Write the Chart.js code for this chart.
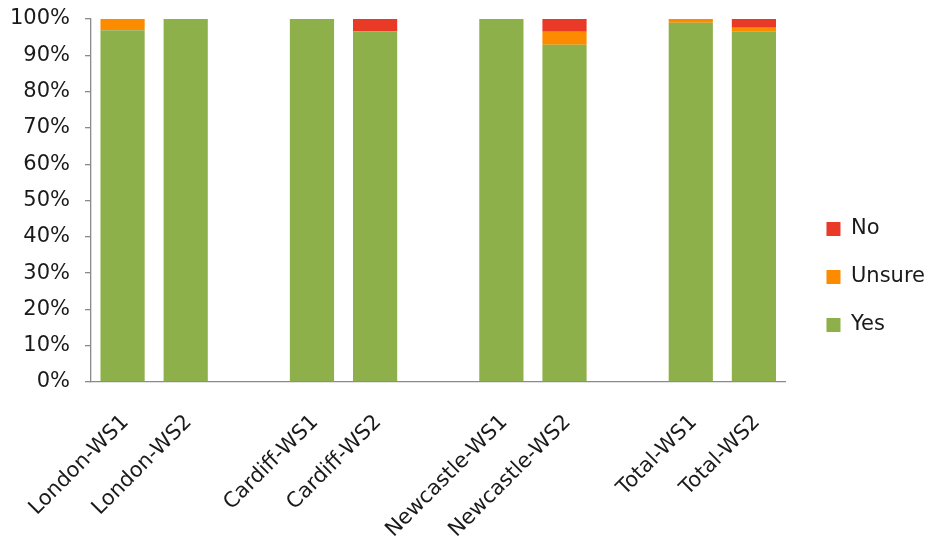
<!DOCTYPE html>
<html>
<head>
<meta charset="utf-8">
<script src="https://cdn.jsdelivr.net/npm/chart.js@4/dist/chart.umd.min.js"></script>
<style>
  html, body { margin: 0; padding: 0; background: #ffffff; }
  #wrap { width: 928px; height: 543px; position: relative; overflow: hidden; }
</style>
</head>
<body>
<div id="wrap"><canvas id="chart" width="928" height="543"></canvas></div>
<script>
// Workshop groups; empty strings leave gaps between the city pairs
const categories = ['London-WS1', 'London-WS2', '', 'Cardiff-WS1', 'Cardiff-WS2', '',
                    'Newcastle-WS1', 'Newcastle-WS2', '', 'Total-WS1', 'Total-WS2'];

// Share of answers (%) per group
const yesValues    = [96.9, 100, null, 100, 96.6, null, 100, 92.9, null, 99.0, 96.5];
const unsureValues = [3.1,    0, null,   0,    0, null,   0,  3.6, null,  1.0,  1.1];
const noValues     = [0,      0, null,   0,  3.4, null,   0,  3.5, null,  0,    2.4];

const yTickLabels = ['0%', '10%', '20%', '30%', '40%', '50%', '60%', '70%', '80%', '90%', '100%'];

const FONT = 'DejaVu Sans';
const TEXT = '#1a1a1a';
const AXIS = '#8a8a8a';

const W = 928, H = 543;
const PLOT = { left: 91, top: 19, right: 785, bottom: 382 };
const PAD = { left: 0, right: -7, top: 11, bottom: 0 };

new Chart(document.getElementById('chart'), {
  type: 'bar',
  data: {
    labels: categories,
    datasets: [
      { label: 'Yes',    data: yesValues,    backgroundColor: '#8db04a' },
      { label: 'Unsure', data: unsureValues, backgroundColor: '#fd8b00' },
      { label: 'No',     data: noValues,     backgroundColor: '#e93a28' }
    ]
  },
  options: {
    responsive: false,
    animation: false,
    devicePixelRatio: 1,
    layout: { padding: PAD },
    datasets: { bar: { categoryPercentage: 1.0, barPercentage: 0.7 } },
    scales: {
      x: {
        stacked: true,
        grid: { display: false, drawTicks: false },
        border: { display: true, color: AXIS, width: 1.3 },
        ticks: {
          autoSkip: false,
          minRotation: 45,
          maxRotation: 45,
          padding: 28,
          labelOffset: 3,
          color: TEXT,
          font: { family: FONT, size: 21 }
        },
        afterFit: (s) => { s.height = H - PAD.bottom - PLOT.bottom; s.paddingLeft = 0; s.paddingRight = 0; }
      },
      y: {
        stacked: true,
        min: 0,
        max: 100,
        grid: { display: true, drawOnChartArea: false, drawTicks: true, tickLength: 6, color: AXIS, lineWidth: 1.3 },
        border: { display: true, color: AXIS, width: 1.3 },
        ticks: {
          stepSize: 10,
          padding: 15,
          color: TEXT,
          font: { family: FONT, size: 21 },
          callback: (v) => yTickLabels[Math.round(v / 10)]
        },
        afterFit: (s) => { s.width = PLOT.left - PAD.left; s.paddingTop = PLOT.top; s.paddingBottom = 0; }
      },
      // empty spacer between the plot and the legend
      gap: {
        type: 'linear',
        position: 'right',
        display: true,
        grid: { display: false, drawTicks: false },
        border: { display: false },
        ticks: { display: false },
        afterFit: (s) => { s.width = 14; }
      }
    },
    plugins: {
      tooltip: { enabled: false },
      legend: {
        position: 'right',
        reverse: true,
        labels: {
          boxWidth: 14,
          boxHeight: 14,
          padding: 27,
          color: TEXT,
          font: { family: FONT, size: 21 }
        }
      }
    }
  }
});
</script>
</body>
</html>
